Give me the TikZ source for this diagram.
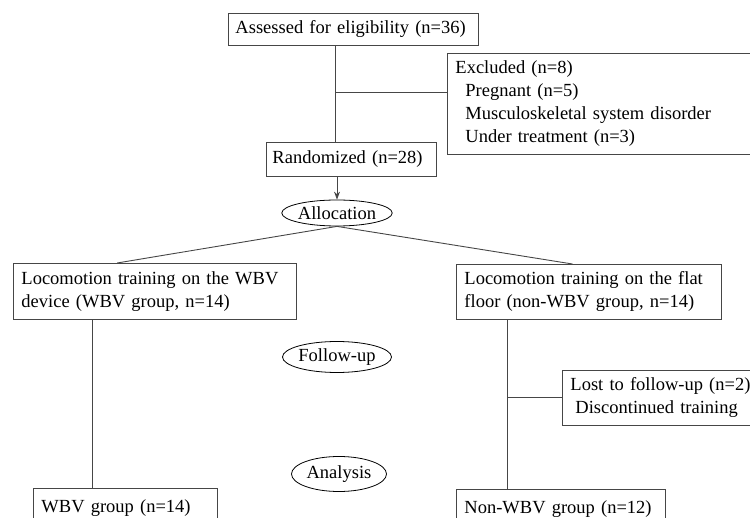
\documentclass[tikz,border=0pt]{standalone}
\usepackage{fontspec}
\setmainfont{Liberation Serif}
\usepackage{tikz}
\usetikzlibrary{shapes.geometric,arrows.meta,positioning,calc}
\definecolor{linegray}{RGB}{70,70,70}

\begin{document}
\begin{tikzpicture}[
    x=1pt, y=-1pt,
    >={Stealth[length=8pt,width=6pt]},
    every node/.style={font=\fontsize{18.5}{23}\selectfont},
    box/.style={rectangle, draw=linegray, line width=0.9pt, align=left, inner xsep=8pt, inner ysep=0pt},
    stage/.style={ellipse, draw=black, line width=0.8pt, inner sep=0pt},
    link/.style={draw=linegray, line width=0.9pt}
]
    \clip (0,0) rectangle (750,518);

    \node (assess) [box, anchor=north west, minimum width=250pt, minimum height=32pt, text width=236pt, inner xsep=7pt] at (228,13) {Assessed for eligibility (n=36)};
    \node (excl) [box, anchor=north west, minimum height=101pt, text width=330pt] at (447,53) {Excluded (n=8)\\\hspace*{10pt}Pregnant (n=5)\\\hspace*{10pt}Musculoskeletal system disorder\\\hspace*{10pt}Under treatment (n=3)};
    \node (rand) [box, anchor=north west, minimum height=34pt, text width=158pt, inner xsep=6pt] at (266,142) {Randomized (n=28)};
    \node (alloc) [stage, minimum width=88pt, minimum height=26pt] at (337,213) {Allocation};
    \node (left) [box, anchor=north west, minimum height=56pt, text width=267pt] at (13,263) {Locomotion training on the WBV\\device (WBV group, n=14)};
    \node (right) [box, anchor=north west, minimum height=55pt, text width=249pt] at (456,264) {Locomotion training on the flat\\floor (non-WBV group, n=14)};
    \node (follow) [stage, minimum width=90pt, minimum height=31pt] at (337,357) {Follow-up};
    \node (lost) [box, anchor=north west, minimum height=55pt, text width=250pt] at (562,370) {Lost to follow-up (n=2)\\\hspace*{5pt}Discontinued training};
    \node (analysis) [stage, minimum width=95pt, minimum height=35pt] at (339,474) {Analysis};
    \node (wbv) [box, anchor=north west, minimum height=40pt, text width=168pt] at (33,488) {WBV group (n=14)};
    \node (nonwbv) [box, anchor=north west, minimum height=40pt, text width=193pt] at (456,489) {Non-WBV group (n=12)};

    \coordinate (trunk) at (335,92);
    \coordinate (lcol) at (92,0);
    \coordinate (rcol) at (507,397);

    \draw[link] (assess.south -| trunk) -- (rand.north -| trunk);
    \draw[link] (trunk) -- (trunk -| excl.west);
    \draw[link, ->] (rand.south -| alloc.north) -- (alloc.north);
    \draw[link] (alloc.south) -- ($(left.north west)!0.367!(left.north east)$);
    \draw[link] (alloc.south) -- ($(right.north west)!0.438!(right.north east)$);
    \draw[link] (left.south -| lcol) -- (wbv.north -| lcol);
    \draw[link] (right.south -| rcol) -- (nonwbv.north -| rcol);
    \draw[link] (rcol) -- (rcol -| lost.west);

\end{tikzpicture}
\end{document}
